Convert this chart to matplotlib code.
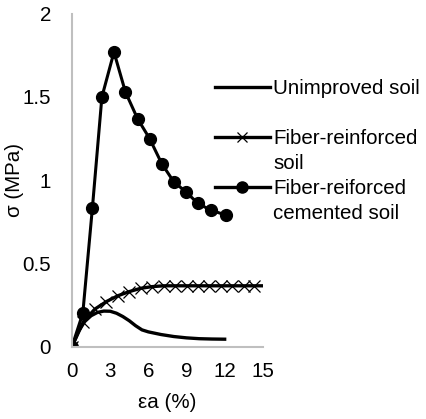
import matplotlib.pyplot as plt
from matplotlib.lines import Line2D

plt.rcParams['font.family'] = ['Liberation Sans', 'DejaVu Sans']

# Unimproved soil (smooth line, no markers)
unimp_x = [0, 0.5, 1.0, 1.5, 2.0, 2.5, 3.0, 3.5, 4.0, 4.5, 5.0, 5.5, 6.0, 7.0, 8.0, 9.0, 10.0, 11.0, 12.0]
unimp_y = [0, 0.09, 0.15, 0.185, 0.205, 0.213, 0.212, 0.2, 0.18, 0.155, 0.125, 0.1, 0.088, 0.072, 0.06, 0.052, 0.047, 0.045, 0.044]

# Fiber-reinforced soil (x markers)
fiber_x = [0, 0.9, 1.8, 2.7, 3.6, 4.5, 5.4, 6.3, 7.2, 8.1, 9.0, 9.9, 10.8, 11.7, 12.6, 13.5, 14.3, 15.0]
fiber_y = [0, 0.15, 0.225, 0.27, 0.305, 0.33, 0.35, 0.36, 0.365, 0.365, 0.365, 0.365, 0.365, 0.365, 0.365, 0.365, 0.365, 0.365]
fiber_mark_x = [0, 0.9, 1.8, 2.7, 3.6, 4.5, 5.4, 6.3, 7.2, 8.1, 9.0, 9.9, 10.8, 11.7, 12.6, 13.5, 14.3]

# Fiber-reinforced cemented soil (filled circles)
cem_x = [0, 0.85, 1.6, 2.35, 3.3, 4.2, 5.15, 6.1, 7.05, 8.0, 8.95, 9.9, 10.9, 12.1]
cem_y = [0, 0.20, 0.83, 1.50, 1.77, 1.53, 1.37, 1.25, 1.10, 0.99, 0.93, 0.86, 0.82, 0.79]

labels = ['Unimproved soil', 'Fiber-reinforced\nsoil', 'Fiber-reiforced\ncemented soil']

FS = 14.8

fig = plt.figure(figsize=(4.26, 4.19), dpi=100)
ax = fig.add_axes([0.169, 0.173, 0.448, 0.794])

ax.plot(unimp_x, unimp_y, color='black', lw=2.4)
ax.plot(fiber_x, fiber_y, color='black', lw=2.4)
ax.plot(fiber_mark_x, [fiber_y[fiber_x.index(v)] for v in fiber_mark_x], ls='none',
        marker='x', ms=9, mew=0.9, color='black')
ax.plot(cem_x, cem_y, color='black', lw=2.2, marker='o', ms=8.5)

ax.set_xlim(0, 15)
ax.set_ylim(0, 2)
ax.set_xticks([0, 3, 6, 9, 12, 15])
ax.set_yticks([0, 0.5, 1, 1.5, 2])
ax.set_yticklabels(['0', '0.5', '1', '1.5', '2'])
ax.tick_params(length=0, labelsize=FS)
ax.tick_params(axis='y', pad=15)
ax.tick_params(axis='x', pad=11)
for s in ['top', 'right']:
    ax.spines[s].set_visible(False)
for s in ['left', 'bottom']:
    ax.spines[s].set_color('#bfbfbf')
    ax.spines[s].set_linewidth(1.5)
ax.set_xlabel('εa (%)', fontsize=FS, labelpad=9)
ax.set_ylabel('σ (MPa)', fontsize=FS, labelpad=-1)

# legend drawn by hand so the handles line up with the first text line
W, H = 426, 419
rows = [87, 137, 187]
for i, (row, lab) in enumerate(zip(rows, labels)):
    yy = 1 - row / H
    fig.add_artist(Line2D([215 / W, 270 / W], [yy, yy], color='black', lw=2.4,
                          transform=fig.transFigure))
    if i == 1:
        fig.add_artist(Line2D([242.5 / W], [yy], marker='x', ms=7, mew=0.9,
                              color='black', transform=fig.transFigure))
    if i == 2:
        fig.add_artist(Line2D([242.5 / W], [yy], marker='o', ms=8,
                              color='black', transform=fig.transFigure))
    for k, line in enumerate(lab.split('\n')):
        fig.text(273 / W, 1 - (row + 6.5 + 25 * k) / H, line, fontsize=FS,
                 va='baseline', ha='left', transform=fig.transFigure)

fig.savefig('out.png', dpi=100)
